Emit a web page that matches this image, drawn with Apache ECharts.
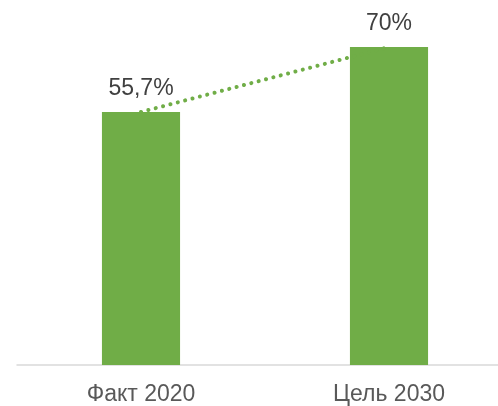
<!DOCTYPE html>
<html>
<head>
<meta charset="utf-8">
<script src="https://cdn.jsdelivr.net/npm/echarts@6/dist/echarts.min.js"></script>
<style>
html,body{margin:0;padding:0;background:#fff;}
#chart{width:498px;height:406px;}
</style>
</head>
<body>
<div id="chart"></div>
<script>
var categories = ['Факт 2020', 'Цель 2030'];
var values = [55.7, 70];
var valueLabels = ['55,7%', '70%'];

var chart = echarts.init(document.getElementById('chart'));
chart.setOption({
  animation: false,
  grid: { left: 17, width: 496, top: 1.6, bottom: 41, outerBoundsMode: 'none', containLabel: false },
  xAxis: {
    type: 'category',
    data: categories,
    axisTick: { show: false },
    axisLine: { lineStyle: { color: '#d9d9d9', width: 1.5 } },
    axisLabel: { color: '#595959', fontSize: 23, fontFamily: 'Liberation Sans, Arial', margin: 18 }
  },
  yAxis: {
    type: 'value', min: 0, max: 80, show: false,
    splitLine: { show: false }
  },
  series: [
    {
      type: 'bar',
      data: values,
      barWidth: '31.5%',
      itemStyle: { color: '#70AD47' },
      label: {
        show: true, position: 'top', distance: 12,
        color: '#404040', fontSize: 23, fontFamily: 'Liberation Sans, Arial',
        formatter: function (p) { return valueLabels[p.dataIndex]; }
      },
      z: 2
    },
    {
      type: 'line',
      data: values,
      symbol: 'none',
      lineStyle: { color: '#70AD47', width: 4, type: [0.1, 7.5], cap: 'round' },
      z: 3
    }
  ]
});
</script>
</body>
</html>
